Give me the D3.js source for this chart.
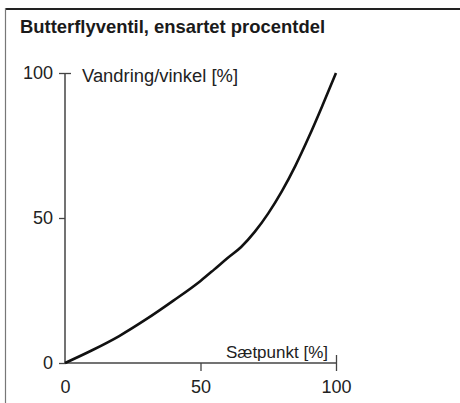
<!DOCTYPE html>
<html>
<head>
<meta charset="utf-8">
<script src="https://cdn.jsdelivr.net/npm/d3@7"></script>
<style>
  html, body { margin: 0; padding: 0; background: #fff; }
  svg { display: block; }
</style>
</head>
<body>
<svg id="chart" width="460" height="403"></svg>
<script>
// Valve characteristic: setpoint [%] vs. travel/angle [%]
const setpoint = [0, 10, 20, 30, 40, 50, 55, 60, 65, 70, 75, 80, 85, 90, 95, 100];
const travel   = [0, 4.4, 9.3, 15.1, 21.5, 28.3, 32.2, 36.2, 40.0, 45.2, 51.6, 59.2, 68.0, 78.0, 88.8, 100];
const xTicks = [0, 50, 100];
const yTicks = [0, 50, 100];

const title = "Butterflyventil, ensartet procentdel";
const yLabel = "Vandring/vinkel [%]";
const xLabel = "Sætpunkt [%]";

const font = "'Liberation Sans', Arial, sans-serif";
const svg = d3.select("#chart");

// frame: heavy top rule, light left rule
svg.append("line").attr("x1", 5).attr("x2", 460).attr("y1", 9).attr("y2", 9)
  .attr("stroke", "#222").attr("stroke-width", 2);
svg.append("line").attr("x1", 5.5).attr("x2", 5.5).attr("y1", 8).attr("y2", 403)
  .attr("stroke", "#777").attr("stroke-width", 1.2);

svg.append("text").attr("x", 20).attr("y", 33)
  .attr("font-family", font).attr("font-weight", "bold").attr("font-size", 19)
  .attr("textLength", 305).attr("lengthAdjust", "spacingAndGlyphs")
  .attr("fill", "#1a1a1a").text(title);

const x = d3.scaleLinear().domain([0, 100]).range([65, 336]);
const y = d3.scaleLinear().domain([0, 100]).range([363, 73]);

const axisColor = "#444";

// y axis
const gy = svg.append("g").attr("transform", `translate(${x(0)},0)`)
  .call(d3.axisLeft(y).tickValues(yTicks).tickSize(6).tickPadding(6));
gy.select(".domain").attr("stroke", axisColor).attr("stroke-width", 1.5)
  .attr("d", `M0,${y(100)}V${y(0)}`);
gy.selectAll(".tick line").attr("stroke", axisColor).attr("stroke-width", 1.3);
gy.selectAll(".tick text").attr("font-family", font).attr("font-size", 18)
  .attr("fill", "#222").attr("dy", "0.3em");
// top tick crosses the axis
gy.selectAll(".tick").filter(d => d === 100).select("line").attr("x1", 6);

// x axis
const gx = svg.append("g").attr("transform", `translate(0,${y(0)})`)
  .call(d3.axisBottom(x).tickValues(xTicks).tickSize(8).tickPadding(9));
gx.select(".domain").attr("stroke", axisColor).attr("stroke-width", 1.5)
  .attr("d", `M${x(0)},0H${x(100)}`);
gx.selectAll(".tick line").attr("stroke", axisColor).attr("stroke-width", 1.3);
gx.selectAll(".tick text").attr("font-family", font).attr("font-size", 18)
  .attr("fill", "#222");
gx.selectAll(".tick").filter(d => d === 100).select("line").attr("y1", -8);
gx.selectAll(".tick").filter(d => d === 0).select("line").remove();

// axis captions
svg.append("text").attr("x", x(0) + 17).attr("y", y(100) + 9)
  .attr("font-family", font).attr("font-size", 18).attr("fill", "#222")
  .attr("textLength", 156).attr("lengthAdjust", "spacingAndGlyphs").text(yLabel);
svg.append("text").attr("x", x(100) - 8).attr("y", y(0) - 5).attr("text-anchor", "end")
  .attr("font-family", font).attr("font-size", 17).attr("fill", "#222").text(xLabel);

// characteristic curve
const pts = setpoint.map((s, i) => [s, travel[i]]);
svg.append("path").datum(pts)
  .attr("fill", "none").attr("stroke", "#111").attr("stroke-width", 2.6)
  .attr("d", d3.line().x(d => x(d[0])).y(d => y(d[1])).curve(d3.curveMonotoneX));
</script>
</body>
</html>
